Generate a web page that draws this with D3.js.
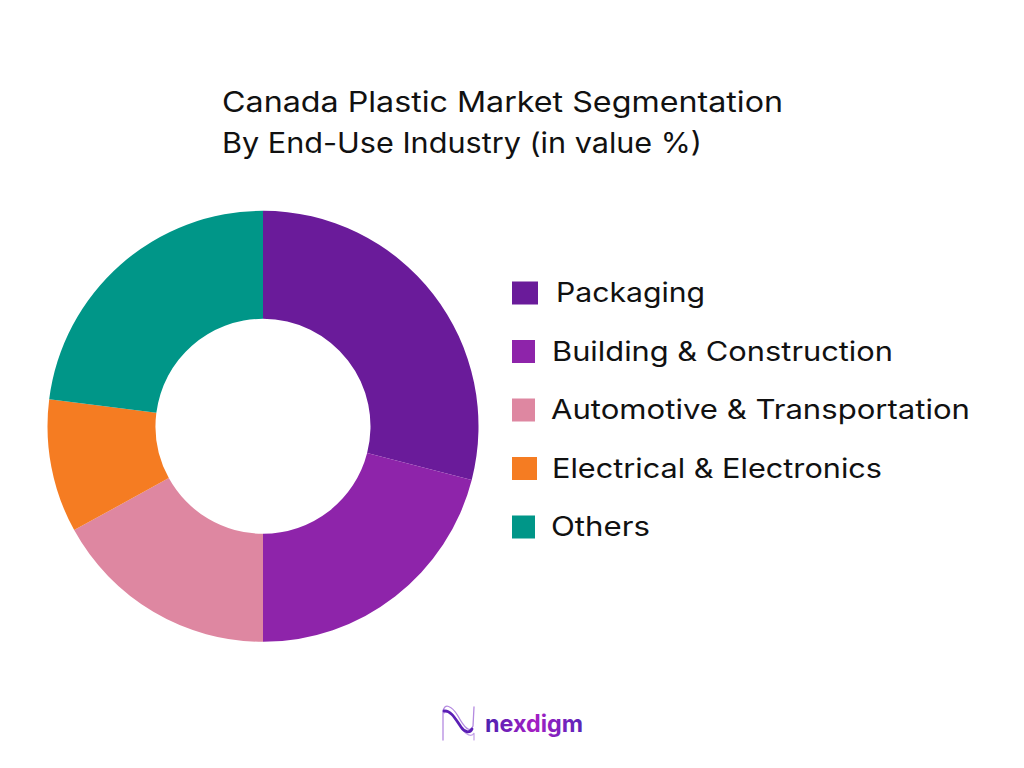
<!DOCTYPE html>
<html>
<head>
<meta charset="utf-8">
<style>
  html, body { margin: 0; padding: 0; background: #fff; }
  svg { display: block; }
  text { font-family: "Inter", "Open Sans", sans-serif; fill: #111; }
</style>
<script src="https://cdn.jsdelivr.net/npm/d3@7"></script>
</head>
<body>
<div id="chart"></div>
<script>
// values
var categories = ["Packaging", "Building & Construction", "Automotive & Transportation", "Electrical & Electronics", "Others"];
var shares = [29, 21, 17, 10, 23];
var colors = ["#6a1b9a", "#8e24aa", "#de87a1", "#f57c22", "#009688"];
var titleLines = ["Canada Plastic Market Segmentation", "By End-Use Industry (in value %)"];

var svg = d3.select("#chart").append("svg")
  .attr("width", 1024)
  .attr("height", 768);

// title
svg.selectAll(".title")
  .data(titleLines)
  .enter().append("text")
    .attr("class", "title")
    .attr("x", 222)
    .attr("y", function (d, i) { return 112 + i * 41; })
    .attr("textLength", function (d, i) { return i == 0 ? 561 : 480; })
    .attr("lengthAdjust", "spacingAndGlyphs")
    .style("font-size", "28px")
    .text(function (d) { return d; });

// donut
var pie = d3.pie().sort(null)(shares);
var arc = d3.arc().innerRadius(107.5).outerRadius(215.5);

svg.append("g")
    .attr("transform", "translate(263,426.3)")
  .selectAll("path")
  .data(pie)
  .enter().append("path")
    .attr("d", arc)
    .style("fill", function (d, i) { return colors[i]; });

// legend
var legendY = d3.scalePoint().domain(categories).range([293, 527]);
var swatchW = [26, 23, 23, 25, 23];
var labelX = [556, 552, 551, 552, 551];
var labelLen = [149, 341, 419, 330, 99];

var legend = svg.selectAll(".legend")
  .data(categories)
  .enter().append("g")
    .attr("class", "legend");

legend.append("rect")
    .attr("x", 512)
    .attr("y", function (d) { return legendY(d) - 11.5; })
    .attr("width", function (d, i) { return swatchW[i]; })
    .attr("height", 23)
    .style("fill", function (d, i) { return colors[i]; });

legend.append("text")
    .attr("x", function (d, i) { return labelX[i]; })
    .attr("y", function (d) { return legendY(d) + 9; })
    .attr("textLength", function (d, i) { return labelLen[i]; })
    .attr("lengthAdjust", "spacingAndGlyphs")
    .style("font-size", "27px")
    .text(function (d) { return d; });

// logo
var defs = svg.append("defs");
var grad = defs.append("linearGradient").attr("id", "logoGrad");
grad.append("stop").attr("offset", "0%").attr("stop-color", "#4a22b0");
grad.append("stop").attr("offset", "50%").attr("stop-color", "#a51fc4");
grad.append("stop").attr("offset", "100%").attr("stop-color", "#5a24b8");

var logo = svg.append("g").style("fill", "none").style("stroke-linecap", "round");
logo.append("path")
    .attr("d", "M443 740 L443 712 C444 702 452 706 458 716 C464 727 470 734 473 726 L474 707")
    .style("stroke", "#b48ae0").style("stroke-width", 1.3);
logo.append("path")
    .attr("d", "M444 713 C450 708 456 718 461 727 C466 736 472 737 474 733 L474 740")
    .style("stroke", "#c3a0e8").style("stroke-width", 1.2);
logo.append("path")
    .attr("d", "M444 711 C451 710 456 720 461 727 C465 733 470 733 472 729")
    .style("stroke", "#5b1fb5").style("stroke-width", 2.8);

svg.append("text")
    .attr("x", 485)
    .attr("y", 732)
    .style("font-size", "24px")
    .style("font-weight", 700)
    .style("fill", "url(#logoGrad)")
    .attr("textLength", 98)
    .attr("lengthAdjust", "spacingAndGlyphs")
    .text("nexdigm");
</script>
</body>
</html>
